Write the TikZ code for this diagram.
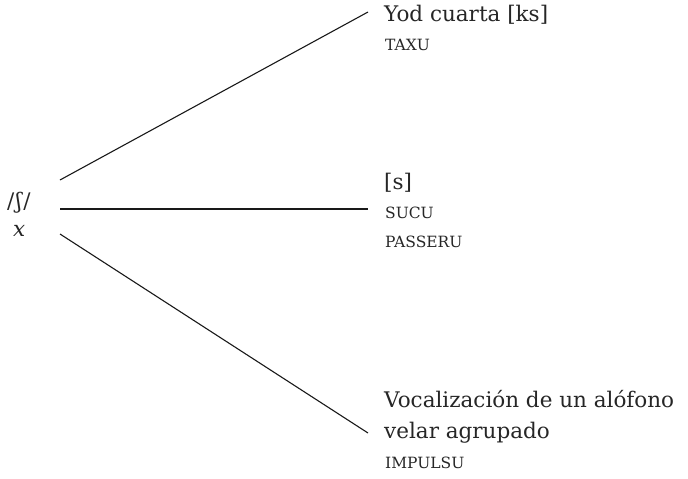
\documentclass[tikz,border=0pt]{standalone}
\usepackage{fontspec}
\setmainfont{DejaVu Serif}
\begin{document}
\begin{tikzpicture}[x=1pt,y=-1pt,
  big/.style={anchor=base west,inner sep=0pt,font=\fontsize{21.5}{24}\selectfont,text=black!85},
  sc/.style={anchor=base west,inner sep=0pt,font=\fontsize{15.5}{18}\selectfont,text=black!85},
  branch/.style={draw=black!90,line width=1.1pt}]
\useasboundingbox (0,0) rectangle (688,479);
\node[big] (phon) at (7,208) {/\kern1.5ptʃ\kern1.5pt/};
\node[big,font=\fontsize{21.5}{24}\selectfont\itshape] (xx) at (13,236) {x};
\coordinate (s1) at (60,180);
\coordinate (s2) at (60,209);
\coordinate (s3) at (60,234);
\coordinate (e1) at (368,12);
\coordinate (e2) at (368,209);
\coordinate (e3) at (368,433);
\draw[branch] (s1) -- (e1);
\draw[branch] (s2) -- (e2);
\draw[branch] (s3) -- (e3);
\node[big] (t1) at (384,21) {Yod cuarta [ks]};
\node[sc] (t1a) at (385,50) {TAXU};
\node[big] (t2) at (384,189) {[s]};
\node[sc] (t2a) at (385,218) {SUCU};
\node[sc] (t2b) at (385,247) {PASSERU};
\node[big] (t3) at (384,407) {Vocalización de un alófono};
\node[big] (t3a) at (384,438) {velar agrupado};
\node[sc] (t3b) at (385,468) {IMPULSU};
\end{tikzpicture}
\end{document}
